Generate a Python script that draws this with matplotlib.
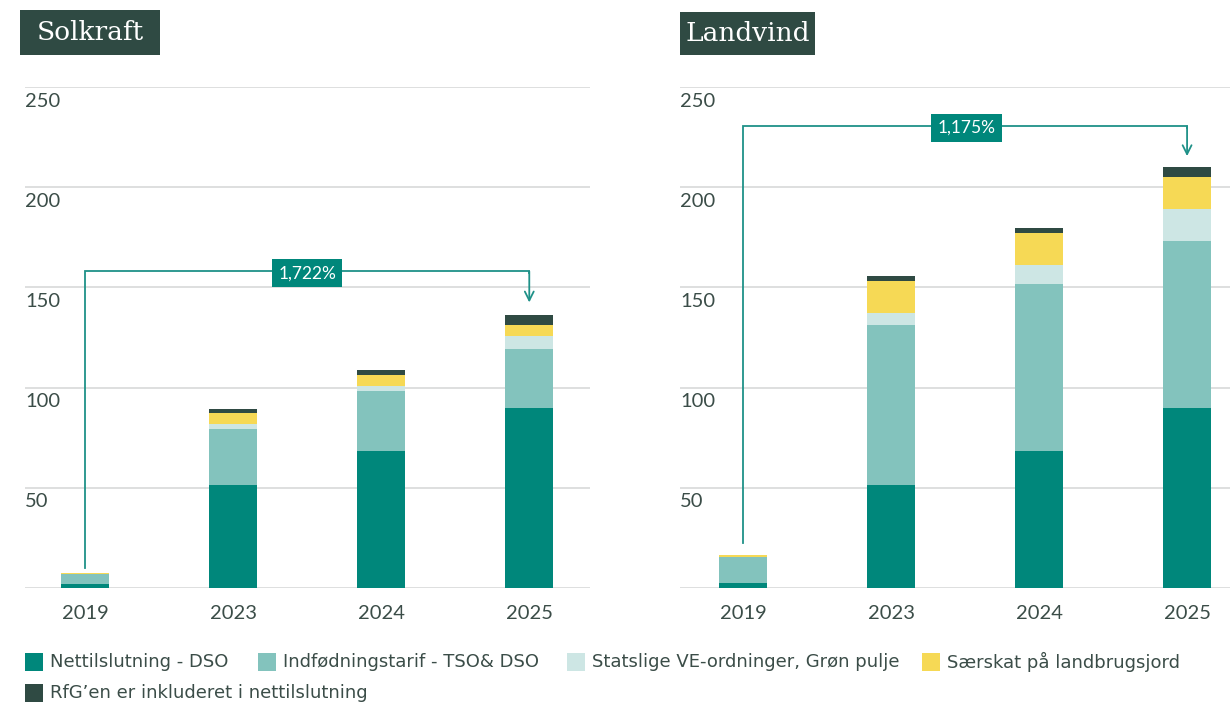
import matplotlib
matplotlib.use("Agg")
import matplotlib.pyplot as plt
from matplotlib.patches import Rectangle
import numpy as np

years = ["2019", "2023", "2024", "2025"]
series_names = ["Nettilslutning - DSO", "Indfødningstarif - TSO& DSO",
                "Statslige VE-ordninger, Grøn pulje", "Særskat på landbrugsjord",
                "RfG’en er inkluderet i nettilslutning"]
colors = ["#00877b", "#83c3bd", "#cde6e4", "#f6d955", "#2f4a43"]

sol_dso = [2.2, 51.5, 68.5, 90.0]
sol_tso = [4.6, 27.8, 29.6, 29.2]
sol_stat = [0.0, 2.5, 2.7, 6.5]
sol_saer = [0.7, 5.5, 5.3, 5.3]
sol_rfg = [0.0, 2.2, 2.5, 5.0]

vind_dso = [2.3, 51.5, 68.5, 90.0]
vind_tso = [13.3, 79.5, 83.0, 83.3]
vind_stat = [0.0, 6.2, 9.7, 16.0]
vind_saer = [0.9, 16.2, 15.7, 16.0]
vind_rfg = [0.0, 2.3, 2.7, 4.7]

sol_change = "1,722%"
vind_change = "1,175%"
yticks = [50, 100, 150, 200, 250]

W, H = 1230, 703
fig = plt.figure(figsize=(W / 100, H / 100), dpi=100)

TXT = "#3b4d48"
GRID = "#d4d6d6"
LINE = "#1f9188"
BOX = "#00877b"
TITLEBG = "#2f4a43"


def panel(left_px, right_px, xlim, data, title, title_box, change, ann):
    ax = fig.add_axes([left_px / W, (H - 588) / H, (right_px - left_px) / W, (588 - 87) / H])
    ax.set_xlim(*xlim)
    ax.set_ylim(0, 250)
    for s in ax.spines.values():
        s.set_visible(False)
    ax.set_yticks([])
    for v in [0] + yticks:
        ax.axhline(v, color=GRID, lw=1.1, zorder=0)
    for v in yticks:
        ax.text(0.0, v - 7, str(v), transform=ax.get_yaxis_transform(), ha="left", va="center",
                fontsize=14.5, color=TXT, family="Lato")
    x = np.arange(len(years))
    bottom = np.zeros(len(years))
    for vals, c in zip(data, colors):
        ax.bar(x, vals, bottom=bottom, width=0.325, color=c, edgecolor="none", zorder=2)
        bottom += np.array(vals)
    ax.set_xticks(x)
    ax.set_xticklabels(years, fontsize=14.5, color=TXT, family="Lato")
    ax.tick_params(axis="x", length=0, pad=12)
    # annotation
    y0, ytop, yarrow, lx = ann
    ax.plot([0, 0, 3, 3], [y0, ytop, ytop, ytop - 1], color=LINE, lw=1.3, zorder=3,
            solid_joinstyle="miter")
    ax.annotate("", xy=(3, yarrow), xytext=(3, ytop), zorder=3,
                arrowprops=dict(arrowstyle="->", color=LINE, lw=1.3, shrinkA=0, shrinkB=0,
                                mutation_scale=16))
    ax.text(lx, ytop - 1, change, ha="center", va="center", fontsize=12.5, color="white",
            family="Lato", zorder=4,
            bbox=dict(boxstyle="square,pad=0.35", fc=BOX, ec="none"))
    # title box
    bx0, by0, bx1, by1 = title_box
    fig.patches.append(Rectangle((bx0 / W, 1 - by1 / H), (bx1 - bx0) / W, (by1 - by0) / H,
                                 transform=fig.transFigure, facecolor=TITLEBG, edgecolor="none"))
    fig.text((bx0 + bx1) / 2 / W, 1 - (by0 + by1) / 2 / H, title, ha="center", va="center",
             color="white", fontsize=19, family="DejaVu Serif")
    return ax


panel(25, 590, (-0.405, 3.41), [sol_dso, sol_tso, sol_stat, sol_saer, sol_rfg],
      "Solkraft", (20, 10, 160, 55), sol_change, (9.8, 158, 142.5, 1.5))
panel(680, 1230, (-0.426, 3.29), [vind_dso, vind_tso, vind_stat, vind_saer, vind_rfg],
      "Landvind", (680, 12, 815, 55), vind_change, (22.4, 230.5, 215.5, 1.51))

# legend
legend_pos = [(25, 662), (258, 662), (567, 662), (922, 662), (25, 693)]
for (lx, ly), name, c in zip(legend_pos, series_names, colors):
    fig.patches.append(Rectangle((lx / W, 1 - (ly + 9) / H), 18 / W, 18 / H,
                                 transform=fig.transFigure, facecolor=c, edgecolor="none"))
    fig.text((lx + 25) / W, 1 - ly / H, name, ha="left", va="center", fontsize=13,
             color=TXT, family=["Liberation Sans Narrow", "DejaVu Sans"])

fig.savefig("out.png", dpi=100, facecolor="white")
